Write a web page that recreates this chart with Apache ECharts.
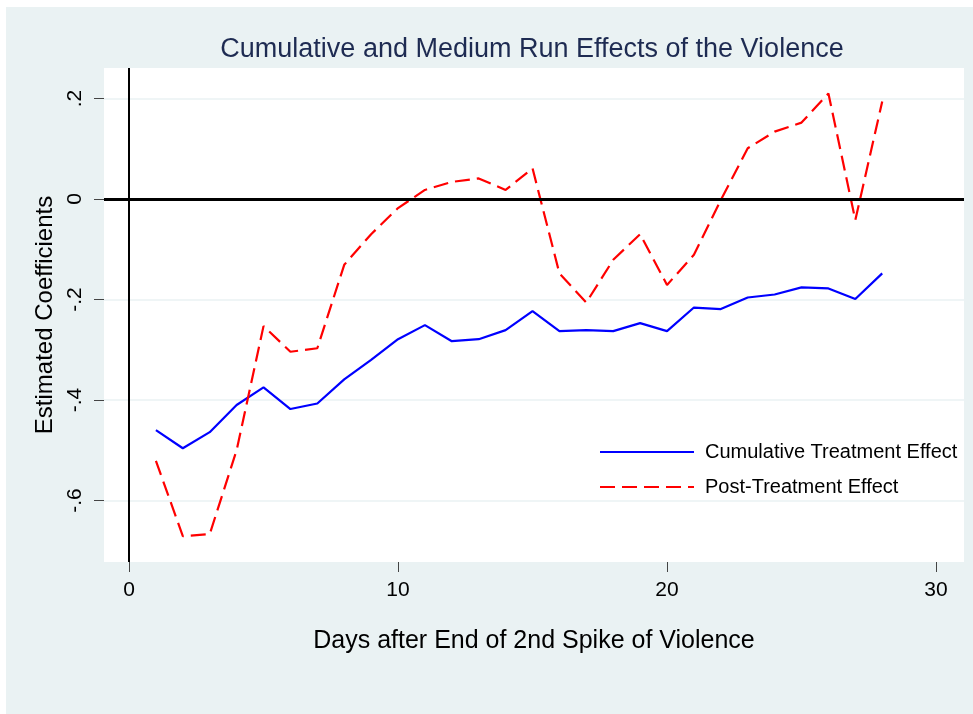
<!DOCTYPE html>
<html>
<head>
<meta charset="utf-8">
<script src="https://cdn.jsdelivr.net/npm/echarts@6/dist/echarts.min.js"></script>
<style>
  html, body { margin: 0; padding: 0; background: #ffffff; }
  #bg { position: absolute; left: 6px; top: 7px; width: 967px; height: 707px; background: #EAF2F3; }
  #chart { position: absolute; left: 0; top: 0; width: 973px; height: 714px; }
</style>
</head>
<body>
<div id="bg"></div>
<div id="chart"></div>
<script>
const days = [1,2,3,4,5,6,7,8,9,10,11,12,13,14,15,16,17,18,19,20,21,22,23,24,25,26,27,28];
const cumulative = [-0.460,-0.496,-0.464,-0.410,-0.375,-0.418,-0.407,-0.359,-0.320,-0.279,
  -0.251,-0.283,-0.279,-0.261,-0.223,-0.263,-0.261,-0.263,-0.247,-0.263,
  -0.216,-0.219,-0.196,-0.190,-0.176,-0.178,-0.199,-0.148];
const postTreatment = [-0.521,-0.671,-0.667,-0.500,-0.253,-0.304,-0.297,-0.131,-0.070,-0.018,
  0.018,0.034,0.041,0.018,0.061,-0.148,-0.206,-0.121,-0.070,-0.171,
  -0.111,-0.002,0.101,0.134,0.152,0.210,-0.042,0.194];
const xTicks = [0, 10, 20, 30];
const yTicks = [-0.6, -0.4, -0.2, 0, 0.2];
const yTickLabels = ['-.6', '-.4', '-.2', '0', '.2'];

const font = 'Liberation Sans, Arial, sans-serif';
const chart = echarts.init(document.getElementById('chart'), null, {renderer: 'canvas'});

chart.setOption({
  backgroundColor: 'transparent',
  animation: false,
  title: {
    text: 'Cumulative and Medium Run Effects of the Violence',
    left: 527, top: 31, textAlign: 'center',
    textStyle: { fontFamily: font, fontSize: 27, fontWeight: 'normal', color: '#1e2b52' }
  },
  grid: {
    left: 104, right: 9, top: 68, bottom: 152,
    show: true, backgroundColor: '#ffffff', borderWidth: 0,
    containLabel: false, outerBoundsMode: 'none'
  },
  legend: {
    orient: 'vertical', left: 599, top: 442, padding: 0,
    itemWidth: 94, itemHeight: 20, itemGap: 15,
    itemStyle: { opacity: 0 },
    textStyle: { fontFamily: font, fontSize: 20, color: '#000', padding: [0,0,0,6] },
    data: ['Cumulative Treatment Effect', 'Post-Treatment Effect']
  },
  xAxis: {
    type: 'value', min: -0.93, max: 31.04,
    name: 'Days after End of 2nd Spike of Violence',
    nameLocation: 'middle', nameGap: 67,
    nameTextStyle: { fontFamily: font, fontSize: 25, color: '#000' },
    axisLine: { show: false, onZero: false },
    axisTick: { show: true, length: 10, customValues: xTicks, lineStyle: { color: '#444', width: 1 } },
    axisLabel: { customValues: xTicks, margin: 18, fontFamily: font, fontSize: 21, color: '#000' },
    splitLine: { show: false }
  },
  yAxis: {
    type: 'value', min: -0.7224, max: 0.2607,
    name: 'Estimated Coefficients',
    nameLocation: 'middle', nameGap: 46, nameRotate: 90,
    nameTextStyle: { fontFamily: font, fontSize: 24, color: '#000' },
    axisLine: { show: false, onZero: false },
    axisTick: { show: true, length: 10, customValues: yTicks, lineStyle: { color: '#444', width: 1 } },
    axisLabel: {
      customValues: yTicks, rotate: 90, margin: 18,
      fontFamily: font, fontSize: 21, color: '#000',
      formatter: v => { const i = yTicks.findIndex(t => Math.abs(t - v) < 1e-6); return i >= 0 ? yTickLabels[i] : ''; }
    },
    splitLine: { show: true, lineStyle: { color: '#EAF2F3', width: 1.5 } }
  },
  series: [
    {
      name: 'Cumulative Treatment Effect', type: 'line',
      data: days.map((d, i) => [d, cumulative[i]]),
      symbol: 'none', showSymbol: false,
      lineStyle: { color: '#0000ff', width: 2.2 },
      itemStyle: { color: '#0000ff' },
      z: 3,
      markLine: {
        silent: true, symbol: 'none', label: { show: false },
        data: [
          { yAxis: 0, lineStyle: { color: '#000', width: 3, type: 'solid' } },
          { xAxis: 0, lineStyle: { color: '#000', width: 2, type: 'solid' } }
        ]
      }
    },
    {
      name: 'Post-Treatment Effect', type: 'line',
      data: days.map((d, i) => [d, postTreatment[i]]),
      symbol: 'none', showSymbol: false,
      lineStyle: { color: '#ff0000', width: 2.2, type: [15, 7] },
      itemStyle: { color: '#ff0000' },
      z: 3
    }
  ]
});
</script>
</body>
</html>
